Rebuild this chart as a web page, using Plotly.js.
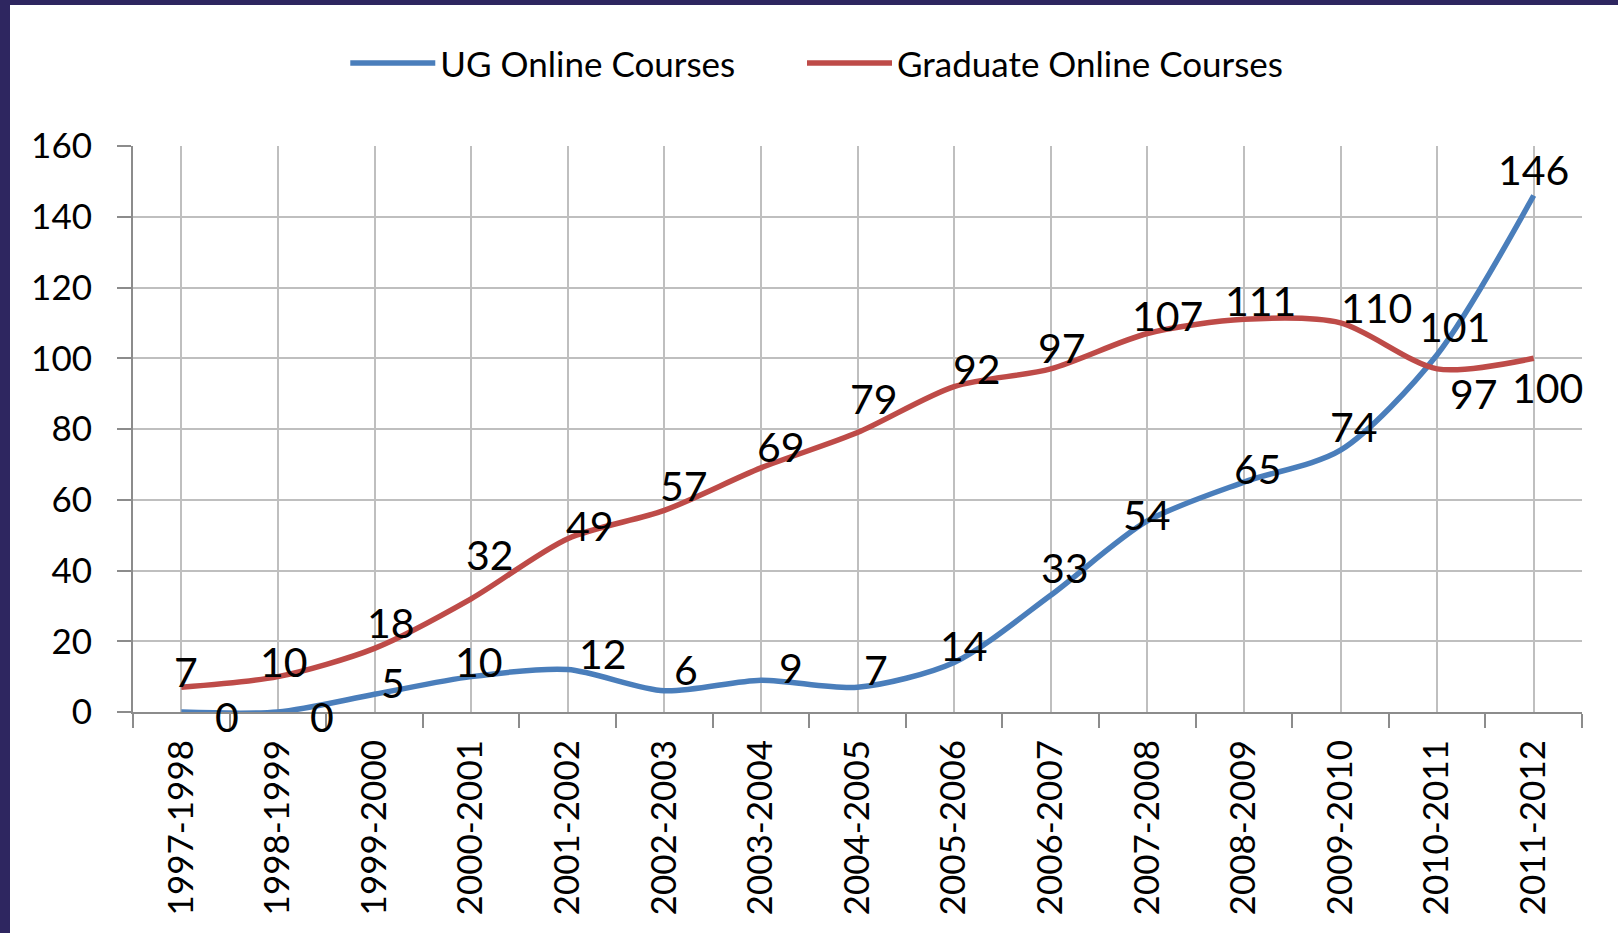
<!DOCTYPE html>
<html><head><meta charset="utf-8">
<script src="https://cdn.plot.ly/plotly-3.0.1.min.js"></script>
<style>
html,body{margin:0;padding:0;background:#fff;}
#wrap{position:relative;width:1618px;height:933px;overflow:hidden;}
#chart{width:1618px;height:933px;}
.bt{position:absolute;left:0;top:0;width:1618px;height:5px;background:#2E2660;}
.bl{position:absolute;left:0;top:0;width:10px;height:933px;background:#2E2660;}
</style>
</head><body>
<div id="wrap"><div id="chart"></div><div class="bt"></div><div class="bl"></div></div>
<script>
// ---- data ----
const years = ["1997-1998","1998-1999","1999-2000","2000-2001","2001-2002","2002-2003","2003-2004","2004-2005","2005-2006","2006-2007","2007-2008","2008-2009","2009-2010","2010-2011","2011-2012"];
const ugCourses = [0,0,5,10,12,6,9,7,14,33,54,65,74,101,146];
const gradCourses = [7,10,18,32,49,57,69,79,92,97,107,111,110,97,100];
const yTickVals = [0,20,40,60,80,100,120,140,160];
const seriesNames = ["UG Online Courses","Graduate Online Courses"];

// ---- label offsets (style, px: right / down) ----
const ugDx = [46,44,18,8,35,22,30,18,10,14,0,14,13,17,0];
const ugDy = [4,4,-12,-15,-16,-21,-13,-18,-17,-28,-6,-14,-24,-28,-26];
const grDx = [5,6,16,19,22,20,20,16,23,11,20,17,36,37,14];
const grDy = [-16,-15,-26,-44,-13,-25,-21,-34,-18,-21,-18,-19,-15,25,29];

const FONT = "Lato, 'Open Sans', sans-serif";
const BLUE = "#4A7EBB", RED = "#BE4B48";
const xIdx = years.map((_, i) => i);

const traces = [
  {x: xIdx, y: ugCourses, name: seriesNames[0], type: "scatter", mode: "lines", legend: "legend",
   line: {color: BLUE, width: 5.5, shape: "spline", smoothing: 0.8}, hoverinfo: "skip"},
  {x: xIdx, y: gradCourses, name: seriesNames[1], type: "scatter", mode: "lines", legend: "legend2",
   line: {color: RED, width: 5.5, shape: "spline", smoothing: 0.8}, hoverinfo: "skip"}
];

const annotations = [];
function addLabels(vals, dx, dy) {
  vals.forEach((v, i) => {
    annotations.push({x: xIdx[i], y: v, xref: "x", yref: "y", text: String(v), showarrow: false,
      xanchor: "center", yanchor: "middle", xshift: dx[i], yshift: -dy[i],
      font: {family: FONT, size: 41, color: "#000"}});
  });
}
addLabels(ugCourses, ugDx, ugDy);
addLabels(gradCourses, grDx, grDy);

const legendStyle = {orientation: "h", xanchor: "left", y: 1.146, yanchor: "middle",
  font: {family: FONT, size: 35, color: "#000"}, itemwidth: 85, bgcolor: "rgba(0,0,0,0)"};

const layout = {
  width: 1618, height: 933,
  margin: {l: 133, r: 36, t: 146, b: 221, pad: 0},
  paper_bgcolor: "#fff", plot_bgcolor: "#fff",
  font: {family: FONT, size: 35, color: "#000"},
  showlegend: true,
  legend: Object.assign({}, legendStyle, {x: 0.1465}),
  legend2: Object.assign({}, legendStyle, {x: 0.4617}),
  xaxis: {
    range: [-0.5, years.length - 0.5], tickmode: "array", tickvals: xIdx, ticktext: years,
    tickangle: -90, ticks: "", showgrid: true, gridcolor: "#BFBFBF", gridwidth: 2,
    zeroline: false, showline: true, linecolor: "#8C8C8C", linewidth: 2,
    ticklabelstandoff: 12,
    tickfont: {family: FONT, size: 35, color: "#000"},
    minor: {tickmode: "linear", tick0: -0.5, dtick: 1, ticks: "outside", ticklen: 14,
      tickcolor: "#8C8C8C", tickwidth: 2, showgrid: false},
    fixedrange: true
  },
  yaxis: {
    range: [0, 160], tickmode: "array", tickvals: yTickVals, ticks: "outside", ticklen: 14,
    tickcolor: "#8C8C8C", tickwidth: 2, showgrid: true, gridcolor: "#BFBFBF", gridwidth: 2,
    zeroline: false, showline: true, linecolor: "#8C8C8C", linewidth: 2,
    ticklabelstandoff: 18,
    tickfont: {family: FONT, size: 35, color: "#000"}, fixedrange: true
  },
  annotations: annotations
};

Plotly.newPlot("chart", traces, layout, {displayModeBar: false, staticPlot: true});
</script>
</body></html>
